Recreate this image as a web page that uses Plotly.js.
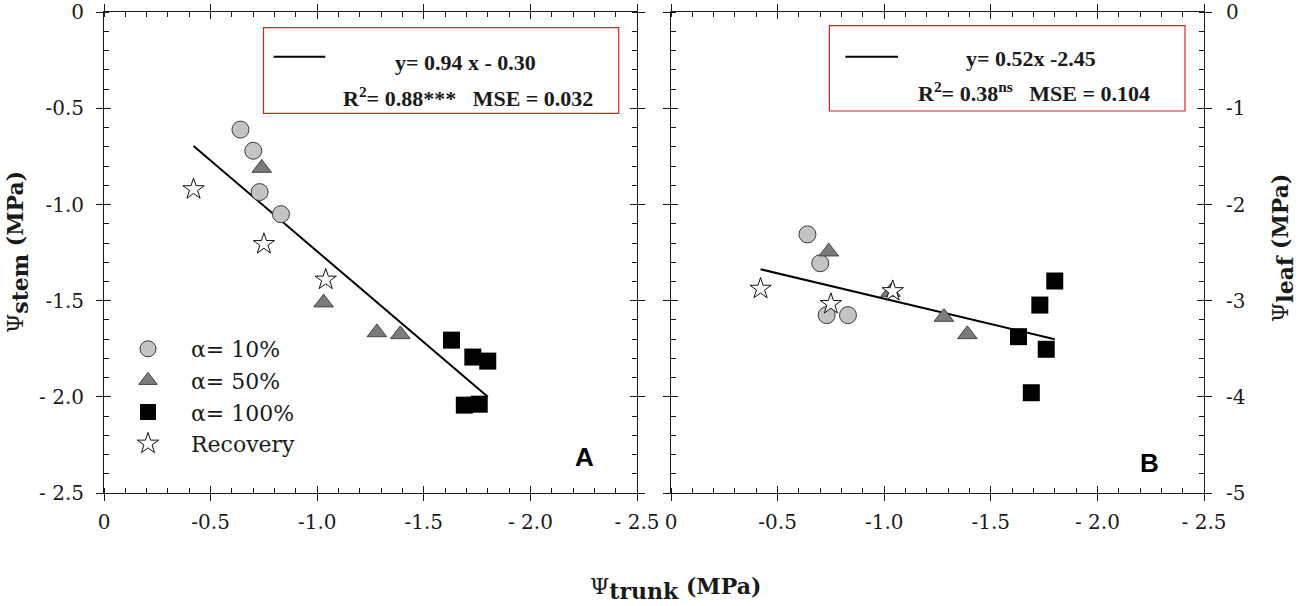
<!DOCTYPE html>
<html><head><meta charset="utf-8">
<script src="https://cdn.plot.ly/plotly-3.0.1.min.js"></script>
<style>html,body{margin:0;padding:0;background:#fff}</style>
</head><body><div id="chart" style="width:1299px;height:606px"></div>
<script>
// ---- data ----
const circleX = [-0.64, -0.70, -0.73, -0.83];
const circleStemY = [-0.61, -0.72, -0.935, -1.05];
const circleLeafY = [-2.31, -2.61, -3.15, -3.15];

const triangleX = [-0.74, -1.03, -1.28, -1.39];
const triangleStemY = [-0.81, -1.51, -1.665, -1.675];
const triangleLeafY = [-2.49, -2.91, -3.17, -3.35];

const squareX = [-1.63, -1.73, -1.80, -1.69, -1.76];
const squareStemY = [-1.705, -1.793, -1.814, -2.043, -2.038];
const squareLeafY = [-3.374, -3.045, -2.795, -3.957, -3.505];

const starX = [-0.42, -0.75, -1.04];
const starStemY = [-0.92, -1.205, -1.39];
const starLeafY = [-2.875, -3.034, -2.90];

const fitStemX = [-0.42, -1.80];
const fitStemY = [-0.695, -2.00];
const fitLeafX = [-0.42, -1.80];
const fitLeafY = [-2.673, -3.40];

const seriesNames = ['\u03b1= 10%', '\u03b1= 50%', '\u03b1= 100%', 'Recovery'];

const xTickVals = [0, -0.5, -1.0, -1.5, -2.0, -2.5];
const xTickText = ['0', '-0.5', '-1.0', '-1.5', '- 2.0', '- 2.5'];
const stemTickVals = [0, -0.5, -1.0, -1.5, -2.0, -2.5];
const stemTickText = ['0', '-0.5', '-1.0', '-1.5', '- 2.0', '- 2.5'];
const leafTickVals = [0, -1, -2, -3, -4, -5];
const leafTickText = ['0', '-1', '-2', '-3', '-4', '-5'];

// ---- styles ----
const W = 1299, H = 606;
const px = v => v / W;
const py = v => 1 - v / H;
const SERIF = '"DejaVu Serif", serif';
const NARROW = '"Liberation Serif", "Times New Roman", serif';
const SANS = '"Liberation Sans", Arial, sans-serif';
const INK = '#1a1a1a';

const mk = {
  circle: {symbol: 'circle', size: 17, color: '#c4c4c4', line: {color: '#3a3a3a', width: 1}},
  triangle: {symbol: 'triangle-up', size: 17, color: '#7b7b7b', line: {color: '#444', width: 1}},
  square: {symbol: 'square', size: 17, color: '#000', line: {color: '#000', width: 0}},
  star: {symbol: 'star', size: 16, color: '#fff', line: {color: '#111', width: 1}}
};

function pts(x, y, m, name, xa, ya, legend) {
  return {type: 'scatter', mode: 'markers', x: x, y: y, name: name, marker: m,
          xaxis: xa, yaxis: ya, showlegend: legend, hoverinfo: 'skip'};
}
function fit(x, y, xa, ya) {
  return {type: 'scatter', mode: 'lines', x: x, y: y, line: {color: '#000', width: 2},
          xaxis: xa, yaxis: ya, showlegend: false, hoverinfo: 'skip'};
}

const traces = [
  fit(fitStemX, fitStemY, 'x', 'y'),
  pts(circleX, circleStemY, mk.circle, seriesNames[0], 'x', 'y', true),
  pts(triangleX, triangleStemY, mk.triangle, seriesNames[1], 'x', 'y', true),
  pts(squareX, squareStemY, mk.square, seriesNames[2], 'x', 'y', true),
  pts(starX, starStemY, mk.star, seriesNames[3], 'x', 'y', true),
  fit(fitLeafX, fitLeafY, 'x2', 'y2'),
  pts(circleX, circleLeafY, mk.circle, seriesNames[0], 'x2', 'y2', false),
  pts(triangleX, triangleLeafY, mk.triangle, seriesNames[1], 'x2', 'y2', false),
  pts(squareX, squareLeafY, mk.square, seriesNames[2], 'x2', 'y2', false),
  pts(starX, starLeafY, mk.star, seriesNames[3], 'x2', 'y2', false),
  {type: 'scatter', x: [], y: [], xaxis: 'x3', yaxis: 'y3', showlegend: false},
  {type: 'scatter', x: [], y: [], xaxis: 'x4', yaxis: 'y4', showlegend: false}
];

const domA = [px(104), px(637)];
const domB = [px(671), px(1204)];
const domY = [py(493), py(12.3)];
const tickFont = {family: SERIF, size: 20, color: INK};

function mainAxis(domain, range, vals, text, anchor, minorDt, extra) {
  return Object.assign({
    domain: domain, range: range, anchor: anchor, autorange: false,
    tickmode: 'array', tickvals: vals, ticktext: text,
    ticks: 'outside', ticklen: 7, tickwidth: 1, tickcolor: INK,
    showline: true, linecolor: INK, linewidth: 1, mirror: 'ticks',
    minor: {ticks: 'inside', ticklen: 5, tickwidth: 1, tickcolor: INK, dtick: minorDt, tick0: 0, showgrid: false},
    showgrid: false, zeroline: false, tickfont: tickFont, fixedrange: true
  }, extra || {});
}
function overAxis(over, domain, range, vals, anchor) {
  return {overlaying: over, domain: domain, range: range, anchor: anchor, autorange: false,
    tickmode: 'array', tickvals: vals, ticks: 'inside', ticklen: 7, tickwidth: 1, tickcolor: INK,
    showticklabels: false, showline: false, mirror: 'ticks', showgrid: false, zeroline: false, fixedrange: true};
}

const titleFont = {family: SERIF, size: 22, color: INK};
const eqFont = {family: NARROW, size: 22, color: INK};
const sp = '&#160;&#160;&#160;';

const layout = {
  width: W, height: H,
  margin: {l: 0, r: 0, t: 0, b: 0},
  paper_bgcolor: '#fff', plot_bgcolor: 'rgba(0,0,0,0)',
  showlegend: true,
  legend: {x: px(105), y: py(328), xanchor: 'left', yanchor: 'top',
           font: {family: SERIF, size: 22, color: INK}, itemwidth: 76,
           bgcolor: 'rgba(0,0,0,0)', borderwidth: 0, tracegroupgap: 0},
  xaxis: mainAxis(domA, [0, -2.5], xTickVals, xTickText, 'y', 0.1, {ticklabelstandoff: 4}),
  yaxis: mainAxis(domY, [-2.5, 0], stemTickVals, stemTickText, 'x', 0.1, {ticklabelstandoff: 8}),
  xaxis2: mainAxis(domB, [0, -2.5], xTickVals, xTickText, 'y2', 0.1, {ticklabelstandoff: 4}),
  yaxis2: mainAxis(domY, [-5, 0], leafTickVals, leafTickText, 'x2', 0.2, {side: 'right', ticklabelstandoff: 10}),
  xaxis3: overAxis('x', domA, [0, -2.5], xTickVals, 'y3'),
  yaxis3: overAxis('y', domY, [-2.5, 0], stemTickVals, 'x3'),
  xaxis4: overAxis('x2', domB, [0, -2.5], xTickVals, 'y4'),
  yaxis4: overAxis('y2', domY, [-5, 0], leafTickVals, 'x4'),
  shapes: [
    {type: 'rect', xref: 'paper', yref: 'paper', x0: px(263.5), x1: px(618.7), y0: py(113.3), y1: py(27.7),
     line: {color: 'rgb(230,30,35)', width: 1.2}},
    {type: 'line', xref: 'paper', yref: 'paper', x0: px(273.6), x1: px(325.3), y0: py(56.7), y1: py(56.7),
     line: {color: '#000', width: 2}},
    {type: 'rect', xref: 'paper', yref: 'paper', x0: px(829.4), x1: px(1185), y0: py(111), y1: py(25.7),
     line: {color: 'rgb(230,30,35)', width: 1.2}},
    {type: 'line', xref: 'paper', yref: 'paper', x0: px(845.4), x1: px(898), y0: py(56.7), y1: py(56.7),
     line: {color: '#000', width: 2}}
  ],
  annotations: [
    {xref: 'paper', yref: 'paper', x: px(465), y: py(63), text: '<b>y= 0.94 x - 0.30</b>',
     showarrow: false, font: eqFont, xanchor: 'center', yanchor: 'middle'},
    {xref: 'paper', yref: 'paper', x: px(468), y: py(97), text: '<b>R<sup>2</sup>= 0.88***' + sp + 'MSE = 0.032</b>',
     showarrow: false, font: eqFont, xanchor: 'center', yanchor: 'middle'},
    {xref: 'paper', yref: 'paper', x: px(1031), y: py(58), text: '<b>y= 0.52x -2.45</b>',
     showarrow: false, font: eqFont, xanchor: 'center', yanchor: 'middle'},
    {xref: 'paper', yref: 'paper', x: px(1034), y: py(92), text: '<b>R<sup>2</sup>= 0.38<sup>ns</sup>' + sp + 'MSE = 0.104</b>',
     showarrow: false, font: eqFont, xanchor: 'center', yanchor: 'middle'},
    {xref: 'paper', yref: 'paper', x: px(584), y: py(457), text: '<b>A</b>',
     showarrow: false, font: {family: SANS, size: 26, color: '#000'}, xanchor: 'center', yanchor: 'middle'},
    {xref: 'paper', yref: 'paper', x: px(1149), y: py(463), text: '<b>B</b>',
     showarrow: false, font: {family: SANS, size: 26, color: '#000'}, xanchor: 'center', yanchor: 'middle'},
    {xref: 'paper', yref: 'paper', x: px(18), y: py(252), textangle: -90,
     text: '\u03a8<sub><span style="font-size:22px"><b>stem</b></span></sub><b> (MPa)</b>',
     showarrow: false, font: titleFont, xanchor: 'center', yanchor: 'middle'},
    {xref: 'paper', yref: 'paper', x: px(1282), y: py(248), textangle: -90,
     text: '\u03a8<sub><span style="font-size:22px"><b>leaf</b></span></sub><b> (MPa)</b>',
     showarrow: false, font: titleFont, xanchor: 'center', yanchor: 'middle'},
    {xref: 'paper', yref: 'paper', x: px(676), y: py(588),
     text: '\u03a8<sub><span style="font-size:22px"><b>trunk</b></span></sub><b> (MPa)</b>',
     showarrow: false, font: titleFont, xanchor: 'center', yanchor: 'middle'}
  ]
};

Plotly.newPlot('chart', traces, layout, {staticPlot: true, displayModeBar: false});
</script>
</body></html>
